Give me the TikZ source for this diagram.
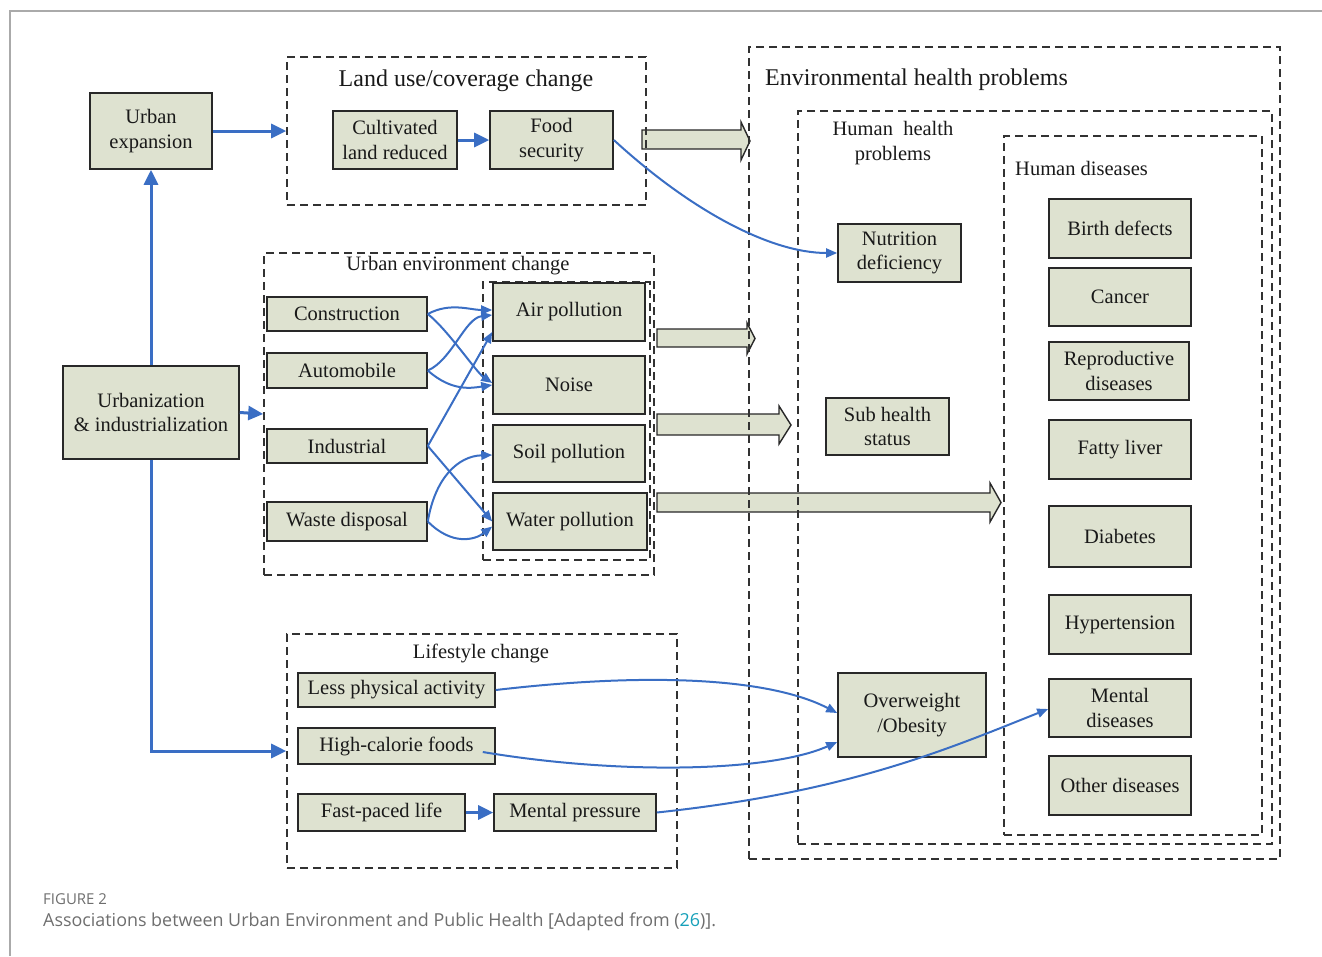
\documentclass[tikz,border=0pt]{standalone}
\usepackage{fontspec}
\setmainfont{Liberation Serif}
\newfontfamily\capfont{Open Sans}
\usetikzlibrary{arrows.meta,calc}
\definecolor{boxfill}{RGB}{222,226,208}
\definecolor{boxline}{RGB}{40,40,40}
\definecolor{arrowblue}{RGB}{58,110,196}
\definecolor{dashcol}{RGB}{50,50,50}
\definecolor{capgray}{RGB}{110,110,110}
\definecolor{citeteal}{RGB}{22,160,185}
\definecolor{framegray}{RGB}{170,170,170}
\begin{document}
\begin{tikzpicture}[x=1pt,y=-1pt,
  bx/.style={draw=boxline, fill=boxfill, line width=1.6pt, inner sep=0pt, align=center,
    font=\fontsize{20.5}{24.6}\selectfont, text=black!90},
  dbox/.style={draw=dashcol, line width=1.6pt, dash pattern=on 8pt off 5pt, inner sep=0pt},
  title/.style={inner sep=0pt, align=center, font=\fontsize{20.5}{25}\selectfont, text=black!90},
  bigtitle/.style={inner sep=0pt, font=\fontsize{24}{28}\selectfont, text=black!90},
  thickarr/.style={draw=arrowblue, line width=3pt, -{Triangle[length=15pt,width=14pt]}},
  conn/.style={draw=arrowblue, line width=2pt, -{Triangle[length=11pt,width=9pt]}},
  blockarr/.style={draw=boxline, fill=boxfill, line width=1.4pt, line join=miter}
]
\useasboundingbox (0,0) rectangle (1322,956);
% page frame
\draw[framegray, line width=1.3pt] (1322,11) -- (10,11) -- (10,956);

% block arrows
\draw[blockarr] (642,130) -- (741,130) -- (741,122) -- (750,141) -- (741,160) -- (741,149) -- (642,149) -- cycle;
\draw[blockarr] (657,329) -- (747,329) -- (747,323) -- (755,338.5) -- (747,354) -- (747,347) -- (657,347) -- cycle;
\draw[blockarr] (657,414) -- (779,414) -- (779,406) -- (791,425) -- (779,444) -- (779,435) -- (657,435) -- cycle;
\draw[blockarr] (657,493) -- (990,493) -- (990,483) -- (1001,502.5) -- (990,522) -- (990,512) -- (657,512) -- cycle;

% dashed containers
\node[dbox, minimum width=359pt, minimum height=148pt] (lu) at (466.5,131) {};
\node[dbox, minimum width=390pt, minimum height=322pt] (uec) at (459,414) {};
\node[dbox, minimum width=167pt, minimum height=278pt] (uein) at (566.5,421) {};
\node[dbox, minimum width=390pt, minimum height=234pt] (ls) at (482,751) {};
\node[dbox, minimum width=531pt, minimum height=812pt] (ehp) at (1014.5,453) {};
\node[dbox, minimum width=474pt, minimum height=733pt] (hhp) at (1035,477.5) {};
\node[dbox, minimum width=258pt, minimum height=699pt] (hd) at (1133,485.5) {};

% titles
\node[bigtitle] (lut) at (466,81) {Land use/coverage change};
\node[bigtitle, anchor=west] (ehpt) at (765,80) {Environmental health problems};
\node[title] (hhpt) at (893,143) {Human~ health\\problems};
\node[title, anchor=west] (hdt) at (1015,168) {Human diseases};
\node[title] (uect) at (458,266) {Urban environment change};
\node[title] (lst) at (481,653) {Lifestyle change};

% boxes
\node[bx, minimum width=122pt, minimum height=76pt] (ue) at (151,131) {Urban\\expansion};
\node[bx, minimum width=124pt, minimum height=58pt] (cl) at (395,140) {Cultivated\\land reduced};
\node[bx, minimum width=123pt, minimum height=58pt] (fs) at (551.5,140) {Food\\security};
\node[bx, minimum width=176pt, minimum height=93pt] (ui) at (151,412.5) {Urbanization\\\& industrialization};

\node[bx, minimum width=160pt, minimum height=34pt] (con) at (347,314) {Construction};
\node[bx, minimum width=160pt, minimum height=35pt] (auto) at (347,370.5) {Automobile};
\node[bx, minimum width=160pt, minimum height=34pt] (ind) at (347,446) {Industrial};
\node[bx, minimum width=160pt, minimum height=39pt] (waste) at (347,521.5) {Waste disposal};

\node[bx, minimum width=152pt, minimum height=58pt] (air) at (569,312) {Air pollution};
\node[bx, minimum width=152pt, minimum height=58pt] (noise) at (569,385) {Noise};
\node[bx, minimum width=152pt, minimum height=57pt] (soil) at (569,453.5) {Soil pollution};
\node[bx, minimum width=154pt, minimum height=57pt] (water) at (570,521.5) {Water pollution};

\node[bx, minimum width=197pt, minimum height=34pt] (lpa) at (396.5,690) {Less physical activity};
\node[bx, minimum width=197pt, minimum height=36pt] (hcf) at (396.5,746) {High-calorie foods};
\node[bx, minimum width=167pt, minimum height=37pt] (fpl) at (381.5,812.5) {Fast-paced life};
\node[bx, minimum width=162pt, minimum height=37pt] (mp) at (575,812.5) {Mental pressure};

\node[bx, minimum width=123pt, minimum height=58pt] (nd) at (899.5,253) {Nutrition\\deficiency};
\node[bx, minimum width=123pt, minimum height=57pt] (shs) at (887.5,426.5) {Sub health\\status};
\node[bx, minimum width=148pt, minimum height=84pt] (ow) at (912,715) {Overweight\\/Obesity};

\node[bx, minimum width=142pt, minimum height=59pt] (bd) at (1120,228.5) {Birth defects};
\node[bx, minimum width=142pt, minimum height=58pt] (can) at (1120,297) {Cancer};
\node[bx, minimum width=140pt, minimum height=58pt] (rep) at (1119,371) {Reproductive\\diseases};
\node[bx, minimum width=142pt, minimum height=59pt] (fl) at (1120,449.5) {Fatty liver};
\node[bx, minimum width=142pt, minimum height=61pt] (dia) at (1120,536.5) {Diabetes};
\node[bx, minimum width=142pt, minimum height=59pt] (hyp) at (1120,624.5) {Hypertension};
\node[bx, minimum width=142pt, minimum height=58pt] (md) at (1120,708) {Mental\\diseases};
\node[bx, minimum width=142pt, minimum height=59pt] (od) at (1120,785.5) {Other diseases};

% thick connectors
\draw[thickarr] (ue.east) -- (lu.west);
\draw[thickarr] (cl.east) -- (fs.west);
\draw[thickarr] (ui.north) -- (ue.south);
\draw[thickarr] (ui.east) -- (uec.west);
\draw[thickarr] (ui.south) |- (ls.west);
\draw[thickarr] (fpl.east) -- (mp.west);

% thin connectors
\draw[conn] (fs.east) .. controls (690,210) and (770,253) .. (nd.west);
\draw[conn] (con.east) .. controls (450,302) and (470,310) .. ($(air.west)+(0,-2)$);
\draw[conn] (con.east) .. controls (448,330) and (476,372) .. ($(noise.west)+(0,-2)$);
\draw[conn] (auto.east) .. controls (452,360) and (465,318) .. ($(air.west)+(0,3)$);
\draw[conn] (auto.east) .. controls (452,392) and (472,388) .. (noise.west);
\draw[conn] (ind.east) -- ($(air.west)+(0,20)$);
\draw[conn] (ind.east) -- (water.west);
\draw[conn] (waste.east) .. controls (435,478) and (458,456) .. ($(soil.west)+(0,1.5)$);
\draw[conn] (waste.east) .. controls (452,546) and (475,540) .. ($(water.west)+(0,5)$);

\draw[conn] (lpa.east) .. controls (650,672) and (770,678) .. ($(ow.west)+(0,-2)$);
\draw[conn] ($(hcf.east)+(-13,6)$) .. controls (620,775) and (770,772) .. ($(ow.west)+(0,27)$);
\draw[conn] (mp.east) .. controls (850,792) and (950,748) .. ($(md.west)+(0,1)$);

% caption
\node[anchor=west, inner sep=0pt, text=capgray, font=\capfont\fontsize{15}{17}\selectfont] (figlab) at (43,899) {FIGURE 2};
\node[anchor=west, inner sep=0pt, text=capgray, font=\capfont\fontsize{17.9}{20}\selectfont] (cap) at (43,922)
  {Associations between Urban Environment and Public Health [Adapted from (\textcolor{citeteal}{26})].};
\end{tikzpicture}
\end{document}
